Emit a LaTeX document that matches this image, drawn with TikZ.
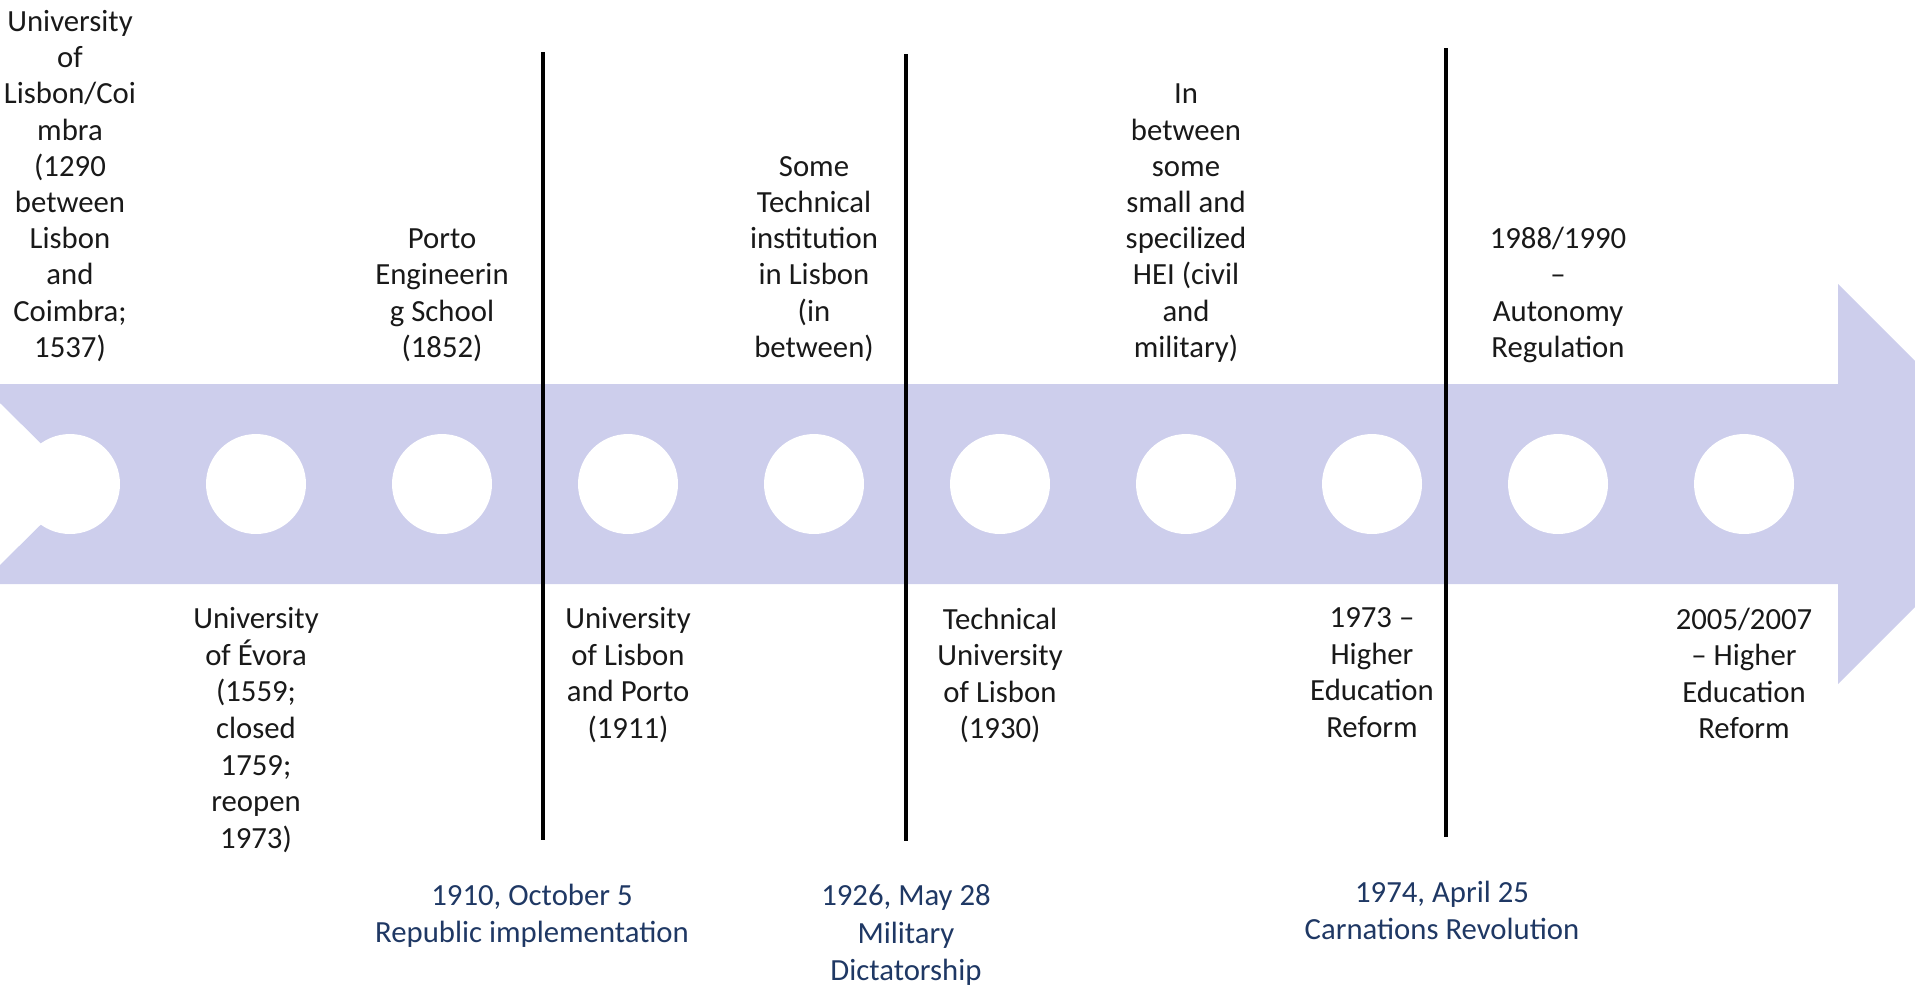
\documentclass[tikz,border=0pt]{standalone}
\usepackage{fontspec}
\setmainfont{Carlito}
\usetikzlibrary{positioning}
\definecolor{bandblue}{RGB}{205,206,236}
\definecolor{eventblue}{RGB}{31,56,100}
\definecolor{labelgray}{RGB}{25,25,25}

\begin{document}
\begin{tikzpicture}[x=0.02cm,y=-0.02cm,
        dot/.style={circle,fill=white,minimum size=2cm,inner sep=0},
        toplabel/.style={align=center,inner sep=0,text depth=0pt,text=labelgray,font=\fontsize{17.5}{20.6}\selectfont},
        botlabel/.style={align=center,inner sep=0,text=labelgray,font=\fontsize{17.5}{20.8}\selectfont},
        eventlabel/.style={align=center,inner sep=0,text=eventblue,font=\fontsize{17.5}{21.2}\selectfont},
        divider/.style={line width=2.6pt,black}]
        \useasboundingbox (0,0) rectangle (1915,985);
        % timeline arrow
        \begin{scope}
            \clip (0,0) rectangle (1915,985);
            \fill[bandblue] (0,384) -- (1838,384) -- (1838,284) -- (2038,484)
                -- (1838,684) -- (1838,584) -- (0,584) -- (0,565) -- (82,484) -- (0,403) -- cycle;
        \end{scope}
        \foreach \i in {0,...,9}
            \node[dot] (c\i) at (70+186*\i,484) {};
        % upper labels
        \node[toplabel,above=1.52cm of c0] (t0) {University\\of\\Lisbon/Coi\\mbra\\(1290\\between\\Lisbon\\and\\Coimbra;\\1537)};
        \node[toplabel,above=1.52cm of c2] (t2) {Porto\\Engineerin\\g School\\(1852)};
        \node[toplabel,above=1.52cm of c4] (t4) {Some\\Technical\\institution\\in Lisbon\\(in\\between)};
        \node[toplabel,above=1.52cm of c6] (t6) {In\\between\\some\\small and\\specilized\\HEI (civil\\and\\military)};
        \node[toplabel,above=1.52cm of c8] (t8) {1988/1990\\–\\Autonomy\\Regulation};
        % lower labels
        \node[botlabel,below=1.46cm of c1] (b1) {University\\of Évora\\(1559;\\closed\\1759;\\reopen\\1973)};
        \node[botlabel,below=1.46cm of c3] (b3) {University\\of Lisbon\\and Porto\\(1911)};
        \node[botlabel,below=1.46cm of c5] (b5) {Technical\\University\\of Lisbon\\(1930)};
        \node[botlabel,below=1.46cm of c7] (b7) {1973 –\\Higher\\Education\\Reform};
        \node[botlabel,below=1.46cm of c9] (b9) {2005/2007\\– Higher\\Education\\Reform};
        % political breaks
        \coordinate (r1t) at (543,52);
        \coordinate (r1b) at (543,840);
        \coordinate (r2t) at (906,54);
        \coordinate (r2b) at (906,841);
        \coordinate (r3t) at (1446,48);
        \coordinate (r3b) at (1446,837);
        \draw[divider] (r1t) -- (r1b);
        \draw[divider] (r2t) -- (r2b);
        \draw[divider] (r3t) -- (r3b);
        \node[eventlabel,below=0.87cm of r1b,xshift=-0.22cm] (e1) {1910, October 5\\Republic implementation};
        \node[eventlabel,below=0.87cm of r2b] (e2) {1926, May 28\\Military\\Dictatorship};
        \node[eventlabel,below=0.87cm of r3b,xshift=-0.08cm] (e3) {1974, April 25\\Carnations Revolution};
\end{tikzpicture}
\end{document}
